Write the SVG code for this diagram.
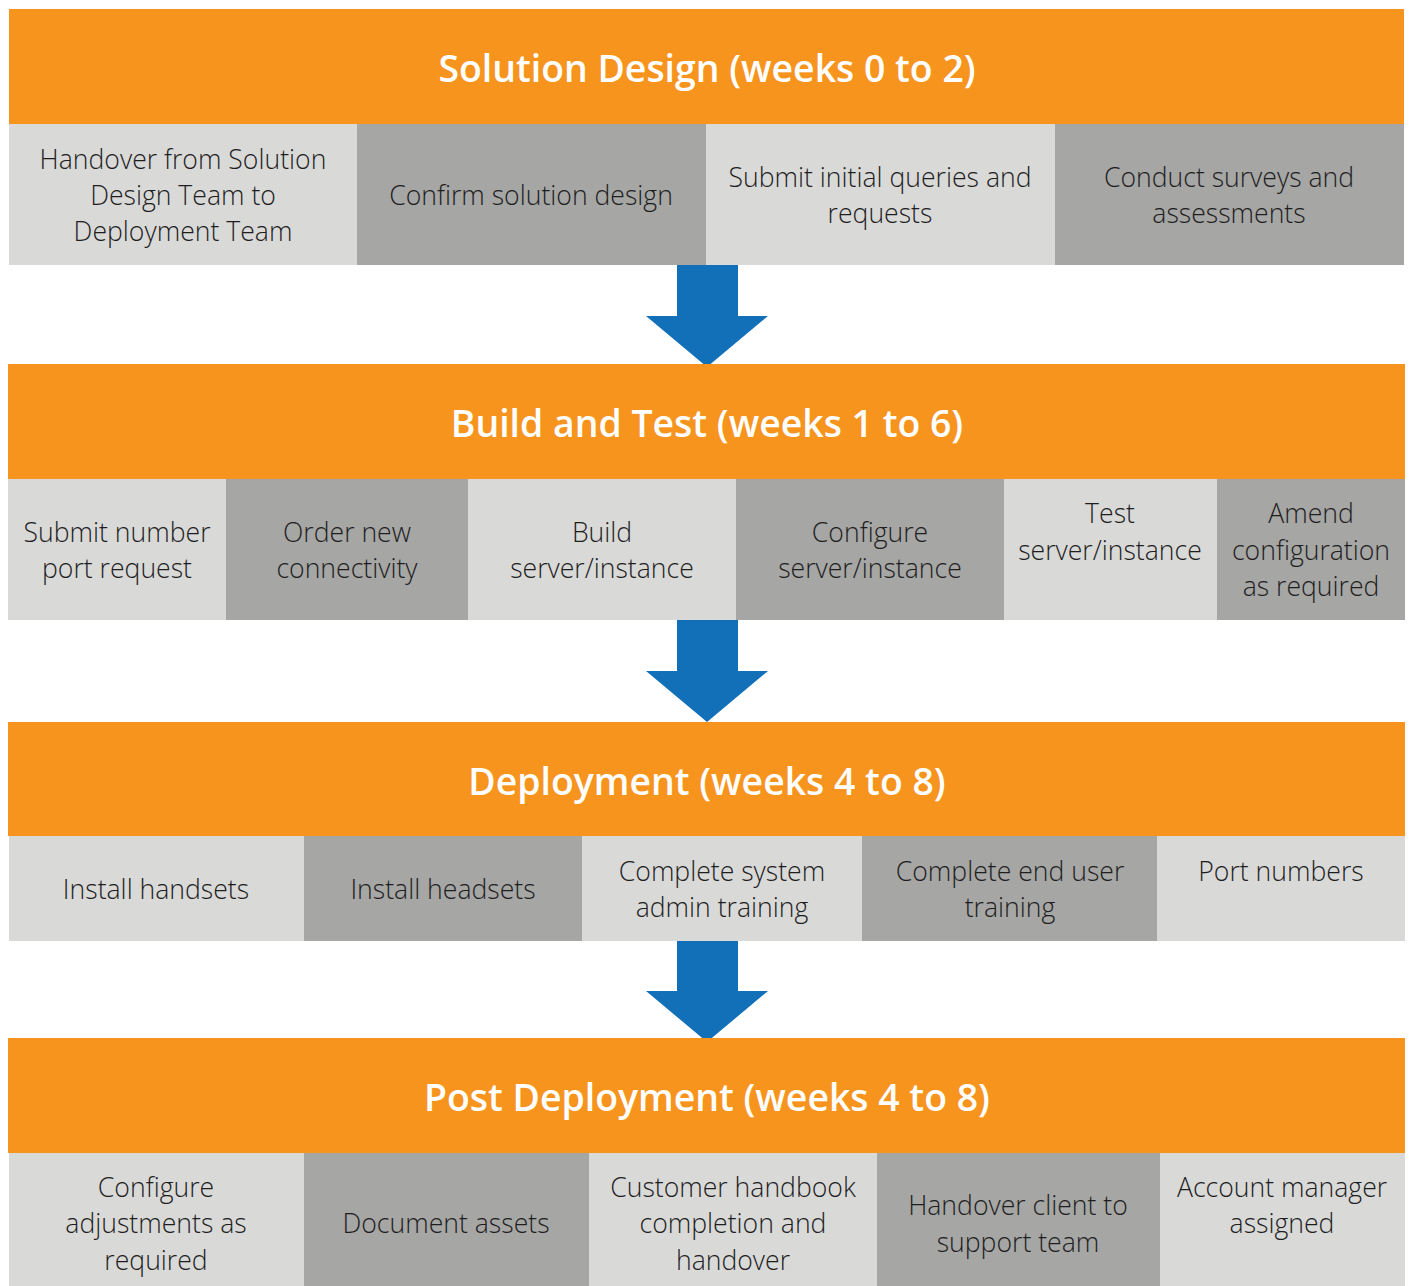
<svg xmlns="http://www.w3.org/2000/svg" width="1410" height="1286" viewBox="0 0 1410 1286">
<style>
.band{fill:#F7941E}
.l{fill:#D9D9D8}
.d{fill:#A6A6A5}
.arrow{fill:#1270B8}
.title{font-family:"Open Sans","Liberation Sans",sans-serif;font-weight:600;font-size:37.4px;fill:#FFFFFF;text-anchor:middle}
.t{font-family:"Open Sans","Liberation Sans",sans-serif;font-weight:300;font-size:26.6px;fill:#1E1E1E;text-anchor:middle}
</style>
<rect width="1410" height="1286" fill="#FFFFFF"/>
<g id="connectors">
<polygon class="arrow" points="677,262 738,262 738,316 768,316 707,367 646,316 677,316"/>
<polygon class="arrow" points="677,618 738,618 738,671 768,671 707,722 646,671 677,671"/>
<polygon class="arrow" points="677,939 738,939 738,991 768,991 707,1042 646,991 677,991"/>
</g>
<g id="phase1">
<rect class="band" x="9" y="9" width="1395" height="115"/>
<text class="title" x="707" y="82">Solution Design (weeks 0 to 2)</text>
</g>
<g id="p1c1"><rect class="l" x="9" y="124" width="348" height="141"/><text class="t" x="183" y="169">Handover from Solution</text><text class="t" x="183" y="205">Design Team to</text><text class="t" x="183" y="241">Deployment Team</text></g>
<g id="p1c2"><rect class="d" x="357" y="124" width="349" height="141"/><text class="t" x="531" y="205">Confirm solution design</text></g>
<g id="p1c3"><rect class="l" x="706" y="124" width="349" height="141"/><text class="t" x="880" y="187">Submit initial queries and</text><text class="t" x="880" y="223">requests</text></g>
<g id="p1c4"><rect class="d" x="1055" y="124" width="349" height="141"/><text class="t" x="1229" y="187">Conduct surveys and</text><text class="t" x="1229" y="223">assessments</text></g>

<g id="phase2">
<rect class="band" x="8" y="364" width="1397" height="115"/>
<text class="title" x="707" y="437">Build and Test (weeks 1 to 6)</text>
</g>
<g id="p2c1"><rect class="l" x="8" y="479" width="218" height="141"/><text class="t" x="117" y="542">Submit number</text><text class="t" x="117" y="578">port request</text></g>
<g id="p2c2"><rect class="d" x="226" y="479" width="242" height="141"/><text class="t" x="347" y="542">Order new</text><text class="t" x="347" y="578">connectivity</text></g>
<g id="p2c3"><rect class="l" x="468" y="479" width="268" height="141"/><text class="t" x="602" y="542">Build</text><text class="t" x="602" y="578">server/instance</text></g>
<g id="p2c4"><rect class="d" x="736" y="479" width="268" height="141"/><text class="t" x="870" y="542">Configure</text><text class="t" x="870" y="578">server/instance</text></g>
<g id="p2c5"><rect class="l" x="1004" y="479" width="213" height="141"/><text class="t" x="1110" y="523">Test</text><text class="t" x="1110" y="560">server/instance</text></g>
<g id="p2c6"><rect class="d" x="1217" y="479" width="188" height="141"/><text class="t" x="1311" y="523">Amend</text><text class="t" x="1311" y="560">configuration</text><text class="t" x="1311" y="596">as required</text></g>

<g id="phase3">
<rect class="band" x="8" y="722" width="1397" height="114"/>
<text class="title" x="707" y="795">Deployment (weeks 4 to 8)</text>
</g>
<g id="p3c1"><rect class="l" x="9" y="836" width="295" height="105"/><text class="t" x="156" y="899">Install handsets</text></g>
<g id="p3c2"><rect class="d" x="304" y="836" width="278" height="105"/><text class="t" x="443" y="899">Install headsets</text></g>
<g id="p3c3"><rect class="l" x="582" y="836" width="280" height="105"/><text class="t" x="722" y="881">Complete system</text><text class="t" x="722" y="917">admin training</text></g>
<g id="p3c4"><rect class="d" x="862" y="836" width="295" height="105"/><text class="t" x="1010" y="881">Complete end user</text><text class="t" x="1010" y="917">training</text></g>
<g id="p3c5"><rect class="l" x="1157" y="836" width="248" height="105"/><text class="t" x="1281" y="881">Port numbers</text></g>

<g id="phase4">
<rect class="band" x="8" y="1038" width="1397" height="115"/>
<text class="title" x="707" y="1111">Post Deployment (weeks 4 to 8)</text>
</g>
<g id="p4c1"><rect class="l" x="9" y="1153" width="295" height="133"/><text class="t" x="156" y="1197">Configure</text><text class="t" x="156" y="1233">adjustments as</text><text class="t" x="156" y="1270">required</text></g>
<g id="p4c2"><rect class="d" x="304" y="1153" width="285" height="133"/><text class="t" x="446" y="1233">Document assets</text></g>
<g id="p4c3"><rect class="l" x="589" y="1153" width="288" height="133"/><text class="t" x="733" y="1197">Customer handbook</text><text class="t" x="733" y="1233">completion and</text><text class="t" x="733" y="1270">handover</text></g>
<g id="p4c4"><rect class="d" x="877" y="1153" width="283" height="133"/><text class="t" x="1018" y="1215">Handover client to</text><text class="t" x="1018" y="1252">support team</text></g>
<g id="p4c5"><rect class="l" x="1160" y="1153" width="245" height="133"/><text class="t" x="1282" y="1197">Account manager</text><text class="t" x="1282" y="1233">assigned</text></g>
</svg>
